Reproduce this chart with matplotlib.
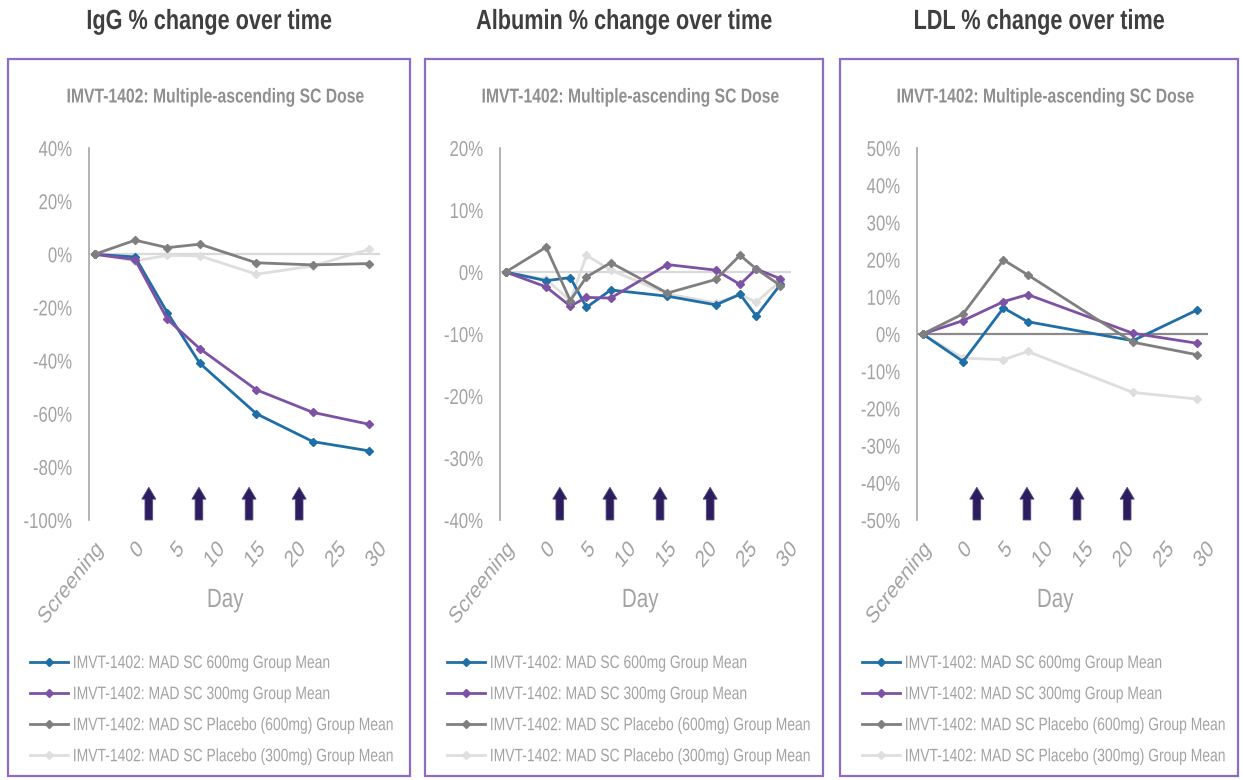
import matplotlib
matplotlib.use("Agg")
import matplotlib.pyplot as plt
from matplotlib.lines import Line2D
from matplotlib.patches import FancyArrow, Rectangle
from matplotlib.patheffects import AbstractPathEffect
from matplotlib.transforms import Affine2D, Bbox

plt.rcParams["font.family"] = ["Liberation Sans", "DejaVu Sans"]


class Narrow(AbstractPathEffect):
    """Draw text compressed horizontally (in display space) about an anchor."""

    def __init__(self, factor=0.78, anchor=(0.0, 0.0)):
        super().__init__()
        self.factor = factor
        self.anchor = anchor

    def draw_path(self, renderer, gc, tpath, affine, rgbFace=None):
        ext = tpath.get_extents()
        lx = ext.x0 + self.anchor[0] * ext.width
        ly = ext.y0 + self.anchor[1] * ext.height
        px, py = affine.transform((lx, ly))
        squeeze = (Affine2D().translate(-px, -py)
                   .scale(self.factor, 1.0).translate(px, py))
        renderer.draw_path(gc, tpath, affine + squeeze, rgbFace)


def report_narrow_extent(text, factor):
    """Make a left-anchored narrowed text report the width it is drawn at."""
    full_extent = text.get_window_extent

    def get_window_extent(renderer=None, dpi=None):
        bb = full_extent(renderer, dpi)
        return Bbox.from_extents(bb.x0, bb.y0, bb.x0 + factor * bb.width, bb.y1)

    text.get_window_extent = get_window_extent


NARROW = 0.78
LEGEND_NARROW = 0.77

# ---- data --------------------------------------------------------------
series_labels = [
    "IMVT-1402: MAD SC 600mg Group Mean",
    "IMVT-1402: MAD SC 300mg Group Mean",
    "IMVT-1402: MAD SC Placebo (600mg) Group Mean",
    "IMVT-1402: MAD SC Placebo (300mg) Group Mean",
]
series_colors = ["#1f6ea6", "#7d52a4", "#7f7f7f", "#dedede"]

x_ticks = [-5, 0, 5, 10, 15, 20, 25, 30]
x_tick_labels = ["Screening", "0", "5", "10", "15", "20", "25", "30"]
dose_days = [1.7, 7.9, 14.1, 20.3]

# IgG
igg_days = [-5, 0, 4, 8, 15, 22, 29]
igg_600 = [0, -1.0, -22.0, -41.0, -60.0, -70.5, -74.0]
igg_300 = [0, -2.0, -24.5, -35.5, -51.0, -59.5, -64.0]
igg_pbo600 = [0, 5.3, 2.5, 3.8, -3.2, -4.0, -3.5]
igg_pbo300 = [0, -2.5, -0.4, -0.6, -7.5, -4.4, 1.9]

# Albumin
alb_days = [-5, 0, 3, 5, 8, 15, 21, 24, 26, 29]
alb_600 = [0, -1.4, -0.9, -5.7, -2.9, -3.9, -5.3, -3.6, -7.1, -2.0]
alb_300 = [0, -2.4, -5.5, -4.1, -4.2, 1.2, 0.3, -2.0, 0.5, -1.1]
alb_pbo600 = [0, 4.0, -4.6, -0.8, 1.5, -3.4, -1.2, 2.7, 0.5, -2.2]
alb_pbo300 = [0, -1.2, -4.6, 2.7, 0.3, -3.5, -5.0, -3.6, -4.9, -1.4]

# LDL
ldl_days = [-5, 0, 5, 8, 21, 29]
ldl_600 = [0, -7.4, 7.0, 3.3, -1.8, 6.5]
ldl_300 = [0, 3.6, 8.7, 10.6, 0.2, -2.5]
ldl_pbo600 = [0, 5.4, 19.9, 15.9, -2.2, -5.6]
ldl_pbo300 = [0, -6.5, -6.9, -4.7, -15.7, -17.5]

panel_titles = ["IgG % change over time", "Albumin % change over time",
                "LDL % change over time"]
subtitle = "IMVT-1402: Multiple-ascending SC Dose"

panels = [
    dict(days=igg_days, values=[igg_600, igg_300, igg_pbo600, igg_pbo300],
         ylim=(-100, 40), ystep=20, zero_color="#d9d9d9"),
    dict(days=alb_days, values=[alb_600, alb_300, alb_pbo600, alb_pbo300],
         ylim=(-40, 20), ystep=10, zero_color="#d9d9d9"),
    dict(days=ldl_days, values=[ldl_600, ldl_300, ldl_pbo600, ldl_pbo300],
         ylim=(-50, 50), ystep=10, zero_color="#8a8a8a"),
]

# ---- layout (pixels) ---------------------------------------------------
W, H = 1243, 780
fig = plt.figure(figsize=(W / 100, H / 100), dpi=100)
fig.patch.set_facecolor("white")

box_left = [8, 425, 840]
box_width = [402, 398, 398]
axes_left = [89, 500, 917]
axes_w = 291
axes_top, axes_bottom = 148, 520

TEXT_GRAY = "#a3a3a3"
TITLE_GRAY = "#3f3f3f"
BOX_COLOR = "#8c6cc4"
ARROW_COLOR = "#2c1e5c"


def fx(px):
    return px / W


def fy(py):
    return 1 - py / H


for i, p in enumerate(panels):
    # framed panel
    fig.add_artist(Rectangle((fx(box_left[i]), fy(776)), box_width[i] / W,
                             (776 - 59) / H, transform=fig.transFigure,
                             fill=False, edgecolor=BOX_COLOR, linewidth=1.6))
    cx = box_left[i] + box_width[i] / 2
    fig.text(fx(cx), fy(22), panel_titles[i], ha="center", va="center",
             fontsize=20, fontweight="bold", color=TITLE_GRAY,
             path_effects=[Narrow(NARROW, (0.5, 0.5))])
    fig.text(fx(cx + 6), fy(97), subtitle, ha="center", va="center",
             fontsize=14.5, fontweight="bold", color="#8f8f8f",
             path_effects=[Narrow(NARROW, (0.5, 0.5))])

    ax = fig.add_axes([fx(axes_left[i]), fy(axes_bottom), axes_w / W,
                       (axes_bottom - axes_top) / H])
    ax.set_xlim(-5.7, 30.3)
    lo, hi = p["ylim"]
    ax.set_ylim(lo, hi)
    ax.axhline(0, color=p["zero_color"], linewidth=1.6, zorder=1)

    handles = []
    for vals, col, lab in zip(p["values"], series_colors, series_labels):
        (ln,) = ax.plot(p["days"], vals, color=col, linewidth=2.0,
                        marker="D", markersize=4.5, label=lab, zorder=3)
        handles.append(ln)
    # keep the lighter placebo line drawn under the others
    handles[3].set_zorder(2)

    # dosing arrows
    span = hi - lo
    for d in dose_days:
        ax.add_patch(FancyArrow(d, lo, 0, span * 0.088, width=0.95,
                                head_width=1.75, head_length=span * 0.032,
                                length_includes_head=True,
                                facecolor=ARROW_COLOR, edgecolor="#5a4a8a",
                                linewidth=0.6, zorder=4, clip_on=False))

    yt = list(range(lo, hi + 1, p["ystep"]))
    ax.set_yticks(yt)
    ax.set_yticklabels([f"{v}%" for v in yt], fontsize=15.5,
                       path_effects=[Narrow(NARROW, (1.0, 0.5))])
    ax.set_xticks(x_ticks)
    ax.set_xticklabels(x_tick_labels, rotation=45, ha="right",
                       rotation_mode="anchor", fontsize=17,
                       path_effects=[Narrow(NARROW, (1.0, 1.0))])
    ax.tick_params(axis="both", length=0, colors=TEXT_GRAY)
    ax.tick_params(axis="y", pad=12)
    ax.tick_params(axis="x", pad=13)
    for s in ["top", "right", "bottom"]:
        ax.spines[s].set_visible(False)
    ax.spines["left"].set_color("#a6a6a6")
    ax.spines["left"].set_linewidth(1.2)
    ax.set_facecolor("none")

    ax.set_xlabel("Day", fontsize=19, color=TEXT_GRAY,
                  path_effects=[Narrow(NARROW, (0.5, 1.0))])
    ax.xaxis.set_label_coords((cx + 16 - axes_left[i]) / axes_w,
                              -(588 - axes_bottom) / (axes_bottom - axes_top))

    leg_handles = [Line2D([0], [0], color=c, linewidth=2.0, marker="D",
                          markersize=4) for c in series_colors]
    leg = fig.legend(leg_handles, series_labels, loc="upper left",
                     bbox_to_anchor=(fx(box_left[i] + 22), fy(655)),
                     frameon=False, fontsize=13, labelcolor=TEXT_GRAY,
                     handlelength=2.1, handletextpad=0.25, labelspacing=0.78,
                     borderaxespad=0, borderpad=0)
    for t in leg.get_texts():
        t.set_path_effects([Narrow(LEGEND_NARROW, (0.0, 0.5))])
        report_narrow_extent(t, LEGEND_NARROW)

fig.savefig("out.png", dpi=100, facecolor="white")
